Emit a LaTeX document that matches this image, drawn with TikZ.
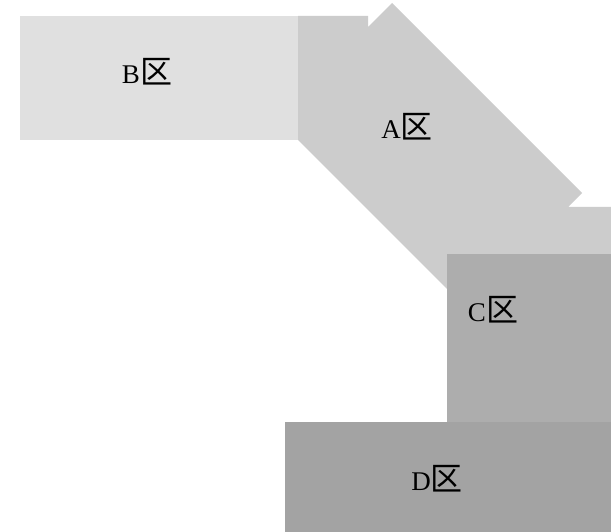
\documentclass[tikz,border=0pt]{standalone}
\usepackage{fontspec}
\setmainfont{Liberation Serif}
\newfontfamily\cjk{Noto Sans CJK SC}
\begin{document}
\begin{tikzpicture}[x=1pt,y=-1pt,
  zone/.style={draw=none},
  lbl/.style={font=\fontsize{27}{30}\selectfont, inner sep=0pt}]
\useasboundingbox (0,0) rectangle (611,532);
\fill[white] (0,0) rectangle (611,532);
% B zone
\fill[zone, fill={rgb,255:red,224;green,224;blue,224}] (20,16) rectangle (298,140);
% A zone
\fill[zone, fill={rgb,255:red,204;green,204;blue,204}]
  (298,16) -- (368,16) -- (368,27) -- (392,3) -- (582,193) -- (568,207)
  -- (611,207) -- (611,254) -- (447,254) -- (447,289) -- (298,140) -- cycle;
% C zone
\fill[zone, fill={rgb,255:red,173;green,173;blue,173}] (447,254) rectangle (611,422);
% D zone
\fill[zone, fill={rgb,255:red,163;green,163;blue,163}] (285,422) rectangle (611,532);
\node[lbl] (b) at (147,72) {B{\cjk\fontsize{32}{34}\selectfont 区}};
\node[lbl] (a) at (407,127) {A{\cjk\fontsize{32}{34}\selectfont 区}};
\node[lbl] (c) at (493,310) {C{\cjk\fontsize{32}{34}\selectfont 区}};
\node[lbl] (d) at (437,479) {D{\cjk\fontsize{32}{34}\selectfont 区}};
\end{tikzpicture}
\end{document}
